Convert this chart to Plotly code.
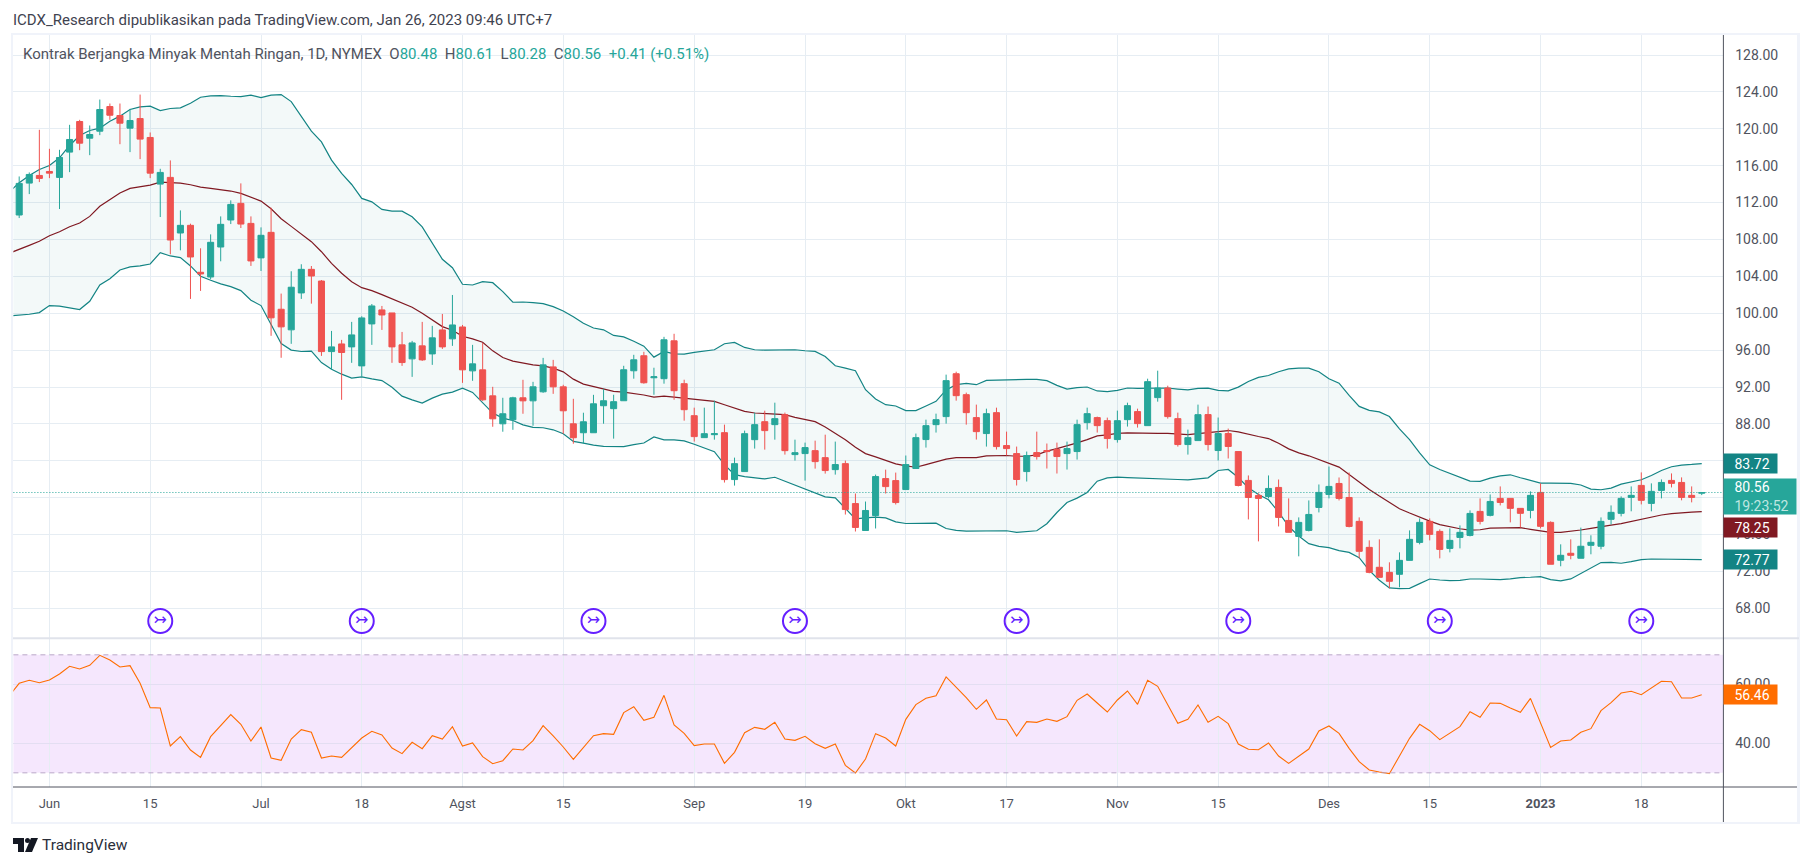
"""
Kontrak Berjangka Minyak Mentah Ringan - chart harian dengan Bollinger Bands dan RSI
"""

import plotly.graph_objects as go

WIDTH = 1813
HEIGHT = 866

# harga per bar
opens = [
    110.65, 114.11, 114.94, 115.37, 114.73, 117.47, 120.79, 118.98, 119.74, 122.41,
    121.44, 120.07, 121.11, 119.06, 114.0, 114.73, 108.70, 109.53, 104.44, 103.93,
    107.18, 110.11, 111.91, 109.74, 106.0, 108.77, 100.43, 98.20, 102.20, 104.76,
    103.49, 95.84, 96.67, 96.35, 94.29, 98.84, 100.36, 100.03, 96.57, 95.05,
    96.46, 95.59, 98.19, 97.22, 98.51, 93.75, 93.86, 91.04, 88.01, 88.45,
    90.83, 90.50, 91.48, 94.18, 92.02, 88.01, 87.04, 87.04, 89.97, 89.65,
    90.51, 93.76, 95.39, 93.0, 92.90, 97.01, 92.36, 88.89, 86.51, 86.83,
    87.05, 81.96, 82.83, 86.29, 88.24, 87.92, 89.0, 84.67, 84.78, 85.10,
    84.34, 83.04, 83.69, 79.36, 76.44, 78.06, 82.07, 81.85, 80.88, 83.16,
    86.30, 87.92, 88.79, 93.44, 91.17, 88.68, 86.95, 89.22, 85.65, 84.78,
    82.83, 84.89, 85.11, 85.22, 84.78, 85.0, 88.14, 88.68, 88.35, 86.30,
    88.46, 89.33, 87.81, 90.85, 91.89, 88.57, 85.76, 86.19, 89.01, 85.11,
    86.95, 85.0, 81.87, 80.24, 80.13, 81.11, 77.53, 75.80, 76.45, 78.94,
    80.35, 81.54, 80.02, 77.43, 74.61, 72.45, 71.90, 71.69, 73.20, 75.15,
    77.43, 76.34, 74.50, 75.69, 75.91, 78.51, 78.08, 79.92, 79.92, 78.84,
    78.62, 80.57, 77.32, 73.21, 73.97, 73.43, 74.83, 74.73, 77.65, 78.30,
    80.03, 81.33, 79.38, 80.79, 81.87, 81.65, 80.25, 80.48,
]
closes = [
    114.08, 115.05, 114.62, 115.19, 116.89, 118.84, 118.44, 119.38, 122.09, 121.47,
    120.61, 120.90, 118.88, 115.19, 115.27, 107.94, 109.53, 106.10, 104.26, 107.69,
    109.64, 111.80, 109.67, 105.67, 108.45, 99.50, 98.52, 102.82, 104.76, 104.04,
    95.84, 96.35, 95.74, 97.65, 99.49, 100.79, 99.81, 96.35, 94.65, 96.78,
    94.94, 97.33, 96.35, 98.73, 93.86, 94.51, 90.61, 88.55, 89.10, 90.83,
    90.50, 92.02, 94.40, 92.02, 89.42, 86.50, 88.23, 90.18, 90.51, 90.41,
    93.87, 94.95, 92.46, 93.11, 97.12, 91.60, 89.54, 86.62, 86.94, 86.94,
    81.96, 83.69, 86.94, 87.92, 87.27, 88.57, 85.10, 84.88, 85.43, 83.91,
    82.94, 83.59, 78.71, 76.77, 78.61, 82.29, 81.20, 79.47, 83.59, 86.51,
    87.81, 88.46, 92.69, 91.06, 89.22, 87.16, 89.11, 85.54, 85.32, 81.97,
    84.57, 84.46, 85.0, 84.46, 85.32, 87.92, 89.11, 87.81, 86.41, 88.35,
    89.98, 88.03, 92.58, 91.89, 88.79, 85.76, 86.51, 89.0, 85.76, 86.95,
    85.55, 81.32, 80.02, 79.92, 81.0, 77.86, 76.24, 77.32, 78.18, 80.57,
    81.22, 79.92, 76.88, 74.18, 71.90, 71.36, 70.93, 73.20, 75.48, 77.32,
    76.02, 74.39, 75.37, 76.24, 78.29, 77.43, 79.59, 79.48, 78.84, 78.30,
    80.25, 76.89, 72.78, 73.75, 73.75, 74.73, 75.16, 77.43, 78.41, 79.92,
    80.25, 79.71, 80.68, 81.65, 81.55, 80.03, 80.03, 80.56,
]
highs = [
    114.83, 115.27, 119.89, 117.83, 117.72, 120.43, 120.97, 120.36, 123.17, 122.74,
    122.74, 122.16, 123.71, 119.60, 115.66, 116.57, 111.15, 109.71, 107.04, 108.55,
    110.50, 112.24, 114.08, 110.50, 109.31, 111.44, 102.13, 104.55, 105.31, 105.12,
    103.6, 98.08, 97.11, 99.06, 99.67, 101.0, 100.79, 100.03, 97.97, 97.0,
    99.06, 98.63, 99.92, 101.98, 98.73, 96.57, 96.78, 92.02, 90.83, 90.94,
    92.78, 92.56, 95.16, 94.94, 92.24, 90.72, 89.21, 91.15, 91.81, 91.16,
    94.30, 95.49, 95.82, 94.09, 97.44, 97.77, 92.79, 89.76, 89.76, 90.51,
    87.92, 84.34, 87.27, 89.22, 89.43, 90.30, 89.22, 86.29, 85.97, 86.18,
    86.83, 86.08, 84.02, 80.45, 79.58, 82.50, 83.04, 82.72, 84.57, 86.95,
    88.46, 89.11, 93.34, 93.66, 91.39, 90.09, 89.65, 89.76, 87.16, 85.54,
    85.0, 87.16, 85.87, 85.97, 86.08, 88.46, 89.76, 88.79, 88.68, 89.44,
    90.30, 89.65, 92.90, 93.77, 92.14, 89.22, 87.38, 90.09, 89.88, 88.69,
    87.49, 85.0, 82.41, 80.46, 82.41, 81.97, 79.92, 77.86, 79.70, 81.43,
    83.38, 82.19, 82.73, 77.86, 75.37, 75.48, 72.99, 74.07, 76.45, 77.75,
    77.75, 76.56, 76.67, 76.99, 78.62, 79.92, 80.35, 81.22, 79.92, 78.84,
    80.68, 81.55, 77.43, 74.94, 75.48, 76.75, 75.92, 77.86, 79.16, 80.14,
    81.22, 82.74, 81.55, 81.98, 82.63, 82.20, 81.22, 80.61,
]
lows = [
    110.32, 112.92, 114.22, 114.65, 111.30, 115.30, 117.68, 117.14, 119.31, 120.97,
    118.33, 117.47, 116.71, 114.65, 110.43, 106.39, 106.82, 101.55, 102.42, 103.68,
    105.63, 109.67, 109.24, 105.13, 104.58, 97.55, 95.17, 96.68, 101.55, 101.04,
    95.37, 93.86, 90.61, 94.62, 93.14, 96.57, 98.19, 94.62, 94.29, 93.10,
    94.83, 94.40, 96.13, 96.46, 92.45, 92.67, 90.50, 87.69, 87.15, 87.36,
    89.10, 87.80, 91.37, 91.26, 86.93, 85.85, 85.85, 87.04, 88.02, 86.40,
    90.51, 92.90, 92.36, 91.16, 92.36, 90.62, 88.35, 86.08, 86.51, 86.29,
    81.64, 81.31, 82.83, 85.32, 85.21, 86.29, 84.67, 84.02, 81.85, 83.15,
    82.61, 82.50, 78.17, 76.33, 76.44, 76.66, 80.45, 79.26, 80.88, 83.16,
    85.43, 87.06, 88.03, 90.52, 87.92, 86.30, 85.54, 85.22, 84.57, 81.32,
    81.75, 84.13, 83.16, 82.62, 83.05, 84.13, 87.38, 87.06, 85.32, 85.97,
    87.71, 87.60, 87.81, 90.41, 88.57, 85.54, 84.67, 86.19, 85.11, 84.03,
    84.25, 81.22, 77.64, 75.26, 79.92, 76.88, 76.24, 73.64, 76.34, 78.40,
    79.92, 79.70, 76.78, 73.42, 71.80, 71.36, 70.17, 70.28, 73.20, 74.94,
    75.37, 73.42, 74.07, 74.50, 75.80, 77.10, 77.97, 79.16, 77.32, 76.75,
    77.76, 76.67, 72.78, 72.56, 73.32, 73.43, 73.86, 74.40, 77.10, 77.97,
    78.52, 79.27, 78.52, 79.92, 81.11, 79.71, 79.49, 80.28,
]

# indikator: nilai pertama adalah bar sebelum tepi kiri chart
bb_upper = [
    113.14,
    114.15, 114.94, 115.59, 116.02, 116.85, 118.19, 119.27, 119.81, 120.07, 120.82,
    121.37, 122.09, 122.38, 122.45, 121.98, 122.20, 122.27, 122.77, 123.42, 123.57,
    123.60, 123.53, 123.49, 123.64, 123.39, 123.64, 123.71, 122.95, 121.33, 119.74,
    118.58, 116.6, 115.16, 113.96, 112.45, 112.08, 111.26, 111.07, 111.07, 110.46,
    109.37, 107.58, 105.85, 104.94, 103.14, 103.06, 103.42, 103.31, 102.34, 101.19,
    101.22, 101.15, 101.04, 100.71, 100.25, 99.63, 98.92, 98.40, 98.20, 97.59,
    97.44, 96.97, 96.43, 95.24, 95.86, 95.60, 95.57, 95.75, 95.93, 96.04,
    96.69, 96.83, 96.29, 96.04, 96.0, 96.04, 96.07, 96.04, 95.93, 95.86,
    95.31, 94.30, 94.05, 93.76, 91.71, 90.70, 90.08, 89.94, 89.44, 89.44,
    89.94, 90.45, 91.68, 92.25, 92.40, 92.25, 92.72, 92.76, 92.76, 92.76,
    92.83, 92.83, 92.69, 92.18, 91.78, 91.93, 92.0, 91.57, 91.49, 91.64,
    91.89, 91.86, 91.86, 91.89, 91.89, 91.78, 91.68, 91.86, 91.88, 91.63,
    91.59, 91.99, 92.60, 93.04, 93.25, 93.65, 93.97, 94.05, 94.05, 93.65,
    92.89, 92.42, 91.09, 89.90, 89.46, 89.30, 88.80, 87.46, 86.30, 84.86,
    83.56, 83.06, 82.66, 82.23, 81.79, 81.76, 82.12, 82.37, 82.48, 82.16,
    81.87, 81.58, 81.58, 81.58, 81.55, 81.37, 80.93, 80.86, 81.04, 81.47,
    81.73, 81.94, 82.41, 82.95, 83.35, 83.53, 83.60, 83.70,
]
bb_basis = [
    106.5,
    106.9, 107.36, 107.8, 108.41, 108.84, 109.38, 109.78, 110.5, 111.59, 112.31,
    113.03, 113.53, 113.75, 113.90, 114.22, 114.18, 114.11, 113.93, 113.68, 113.53,
    113.39, 113.25, 112.99, 112.56, 112.16, 111.33, 110.25, 109.42, 108.59, 107.76,
    106.67, 105.41, 104.33, 103.42, 102.77, 102.45, 102.02, 101.58, 101.15, 100.64,
    99.99, 99.27, 98.55, 98.15, 97.50, 97.22, 96.85, 95.92, 95.19, 94.80,
    94.58, 94.40, 94.29, 94.04, 93.64, 92.85, 92.31, 92.05, 91.81, 91.53,
    91.45, 91.31, 91.13, 90.91, 91.02, 90.91, 90.80, 90.73, 90.62, 90.44,
    90.08, 89.72, 89.36, 89.18, 89.11, 89.11, 89.0, 88.71, 88.49, 88.24,
    87.66, 87.01, 86.29, 85.46, 84.78, 84.42, 84.05, 83.66, 83.45, 83.30,
    83.59, 83.88, 84.17, 84.35, 84.39, 84.35, 84.53, 84.57, 84.57, 84.49,
    84.49, 84.64, 85.04, 85.32, 85.61, 85.94, 86.30, 86.70, 86.80, 86.98,
    87.02, 86.98, 86.98, 86.98, 86.98, 86.88, 86.84, 86.95, 87.06, 87.24,
    87.28, 87.13, 86.85, 86.63, 86.41, 85.91, 85.29, 84.86, 84.54, 84.14,
    83.74, 83.31, 82.51, 81.68, 80.89, 80.17, 79.48, 78.80, 78.33, 77.86,
    77.46, 77.07, 76.81, 76.63, 76.49, 76.52, 76.70, 76.74, 76.75, 76.75,
    76.57, 76.42, 76.24, 76.24, 76.35, 76.49, 76.67, 76.89, 77.03, 77.18,
    77.43, 77.65, 77.90, 78.12, 78.26, 78.37, 78.44, 78.48,
]
bb_lower = [
    99.71,
    99.78, 99.89, 100.07, 100.83, 100.76, 100.54, 100.40, 101.30, 103.07, 103.75,
    104.69, 105.02, 105.13, 105.34, 106.57, 106.21, 106.03, 105.13, 104.01, 103.57,
    103.18, 102.89, 102.45, 101.41, 100.83, 98.77, 96.72, 96.0, 95.85, 95.88,
    94.65, 93.93, 93.39, 92.96, 93.10, 92.88, 92.70, 91.98, 91.01, 90.61,
    90.25, 90.79, 91.22, 91.44, 91.87, 91.41, 90.32, 89.17, 88.63, 88.37,
    87.90, 87.62, 87.58, 87.36, 86.93, 86.10, 85.92, 85.70, 85.57, 85.53,
    85.53, 85.75, 85.93, 86.58, 86.26, 86.26, 86.15, 85.79, 85.43, 84.99,
    83.59, 82.50, 82.29, 82.14, 82.03, 82.21, 81.78, 81.35, 80.98, 80.52,
    80.09, 79.98, 78.89, 77.70, 77.81, 77.88, 77.81, 77.38, 77.20, 77.24,
    77.28, 77.24, 76.66, 76.45, 76.37, 76.37, 76.41, 76.41, 76.41, 76.23,
    76.34, 76.41, 77.17, 78.39, 79.48, 79.95, 80.56, 81.79, 82.15, 82.22,
    82.18, 82.15, 82.11, 82.11, 82.08, 81.97, 81.93, 82.08, 82.15, 82.95,
    83.06, 82.19, 81.07, 80.35, 79.77, 78.44, 76.88, 75.84, 75.01, 74.72,
    74.58, 74.25, 74.07, 73.49, 72.12, 71.04, 70.21, 70.14, 70.17, 70.68,
    71.18, 71.07, 71.0, 71.04, 71.18, 71.18, 71.15, 71.11, 71.19, 71.33,
    71.37, 71.44, 71.12, 70.97, 71.19, 71.77, 72.34, 72.96, 72.99, 72.89,
    73.07, 73.28, 73.35, 73.35, 73.28, 73.28, 73.32, 73.28,
]
rsi = [
    56.0,
    60.34, 61.36, 60.56, 61.47, 63.50, 66.10, 65.20, 66.44, 69.83, 68.25,
    65.88, 66.33, 60.34, 52.09, 51.98, 39.10, 42.26, 37.74, 35.25, 42.26,
    45.88, 49.72, 46.44, 40.79, 45.54, 35.03, 34.24, 41.47, 44.63, 43.73,
    35.03, 35.71, 35.25, 38.53, 41.81, 44.07, 42.82, 38.42, 36.50, 40.34,
    38.19, 42.60, 41.47, 45.65, 39.10, 40.11, 35.48, 33.11, 34.12, 38.08,
    37.74, 40.90, 45.99, 42.49, 38.76, 34.58, 38.64, 42.60, 43.28, 43.05,
    50.40, 52.43, 47.80, 48.81, 56.27, 46.21, 43.39, 39.21, 39.77, 39.77,
    33.22, 36.95, 43.62, 45.42, 44.75, 47.12, 41.47, 41.02, 42.37, 39.89,
    38.31, 39.77, 32.54, 29.94, 34.69, 43.28, 41.81, 39.10, 48.14, 53.11,
    55.25, 56.16, 62.49, 58.98, 55.48, 51.53, 54.69, 48.25, 48.02, 42.49,
    47.34, 47.12, 48.25, 47.46, 49.04, 54.58, 56.72, 53.67, 50.62, 54.69,
    57.74, 53.22, 61.36, 59.32, 52.88, 46.78, 48.14, 52.99, 47.12, 49.15,
    46.67, 39.77, 37.97, 37.85, 40.11, 35.71, 33.22, 35.71, 38.08, 44.18,
    45.88, 43.39, 38.31, 33.79, 30.96, 30.28, 29.72, 35.71, 41.69, 46.44,
    44.29, 41.24, 43.39, 45.65, 50.73, 48.81, 53.67, 53.56, 51.98, 50.51,
    55.25, 46.78, 38.64, 40.79, 41.13, 43.73, 44.97, 51.07, 53.79, 57.06,
    57.63, 56.50, 58.64, 61.02, 60.90, 55.37, 55.37, 56.46,
]

# label sumbu
tick_bars = [3, 13, 24, 34, 44, 54, 67, 78, 88, 98, 109, 119, 130, 140, 151, 161]
tick_labels = ["Jun", "15", "Jul", "18", "Agst", "15", "Sep", "19", "Okt", "17",
               "Nov", "15", "Des", "15", "<b>2023</b>", "18"]
price_ticks = list(range(68, 129, 4))
# 80.00 dan 84.00 tertutup label harga di gambar asli
price_tick_labels = ["" if p in (80, 84) else f"{p}.00" for p in price_ticks]
rsi_ticks = [40, 60]
rsi_band = [30, 70]

# bar tempat ikon rollover kontrak
rollover_bars = [14, 34, 57, 77, 99, 121, 141, 161]
rollover_price = 66.63

# teks label di sumbu kanan
label_upper = "83.72"
label_basis = "78.25"
label_lower = "72.77"
label_price = "80.56"
label_countdown = "19:23:52"
label_rsi = "56.46"

UP_COLOR = "#26a69a"
DOWN_COLOR = "#ef5350"
BAND_COLOR = "#138484"
BASIS_COLOR = "#801922"
RSI_COLOR = "#ff6d00"
ICON_COLOR = "#651fff"
GRID_COLOR = "#e6edf3"
TEXT_COLOR = "#50535e"
FONT = "Roboto"

# posisi area chart dalam piksel
PLOT_LEFT = 13.4
PLOT_RIGHT = 1723.4
PLOT_TOP = 35
PANE_SPLIT = 638.3
PLOT_BOTTOM = 787
FRAME_RIGHT = 1799
FRAME_BOTTOM = 822


def px_x(x):
    return x / WIDTH


def px_y(y):
    return 1 - y / HEIGHT


candle_bars = list(range(len(closes)))
indicator_bars = list(range(-1, len(closes)))
x_range = [-0.576, 169.15]

fig = go.Figure()

# Bollinger Bands
fig.add_trace(go.Scatter(x=indicator_bars, y=bb_upper, mode="lines",
                         line=dict(color=BAND_COLOR, width=1.2), hoverinfo="skip"))
fig.add_trace(go.Scatter(x=indicator_bars, y=bb_lower, mode="lines", fill="tonexty",
                         fillcolor="rgba(19,132,132,0.05)",
                         line=dict(color=BAND_COLOR, width=1.2), hoverinfo="skip"))
fig.add_trace(go.Scatter(x=indicator_bars, y=bb_basis, mode="lines",
                         line=dict(color=BASIS_COLOR, width=1.2), hoverinfo="skip"))

# ikon rollover
fig.add_trace(go.Scatter(
    x=rollover_bars, y=[rollover_price] * len(rollover_bars),
    mode="markers+text", text=["↣"] * len(rollover_bars), textposition="middle center",
    textfont=dict(family="DejaVu Sans", size=16, color=ICON_COLOR),
    marker=dict(symbol="circle-open", size=24, color=ICON_COLOR, line=dict(width=2, color=ICON_COLOR)),
    hoverinfo="skip"))

# candle di axis overlay supaya berada di atas garis indikator
fig.add_trace(go.Candlestick(
    x=candle_bars, open=opens, high=highs, low=lows, close=closes, yaxis="y3",
    increasing=dict(line=dict(color=UP_COLOR, width=1), fillcolor=UP_COLOR),
    decreasing=dict(line=dict(color=DOWN_COLOR, width=1), fillcolor=DOWN_COLOR),
    hoverinfo="skip"))

# RSI
fig.add_trace(go.Scatter(x=indicator_bars, y=rsi, mode="lines", xaxis="x2", yaxis="y2",
                         line=dict(color=RSI_COLOR, width=1.1), hoverinfo="skip"))

price_range = [64.75, 130.17]
price_domain = [px_y(PANE_SPLIT), px_y(PLOT_TOP)]
x_font = dict(family=FONT, size=13, color=TEXT_COLOR)
y_font = dict(family=FONT, size=14, color=TEXT_COLOR)

fig.update_layout(
    width=WIDTH, height=HEIGHT,
    margin=dict(l=0, r=0, t=0, b=0),
    paper_bgcolor="white", plot_bgcolor="white",
    showlegend=False, hovermode=False, font=dict(family=FONT),
    boxgap=0.4, boxgroupgap=0,
    xaxis=dict(domain=[px_x(PLOT_LEFT), px_x(PLOT_RIGHT)], range=x_range,
               anchor="y", tickvals=tick_bars, showticklabels=False, ticks="",
               showgrid=True, gridcolor=GRID_COLOR, gridwidth=1, zeroline=False,
               rangeslider=dict(visible=False)),
    xaxis2=dict(domain=[px_x(PLOT_LEFT), px_x(PLOT_RIGHT)], range=x_range,
                anchor="y2", matches="x", tickvals=tick_bars, ticktext=tick_labels,
                ticks="outside", ticklen=4, tickcolor="rgba(0,0,0,0)", tickfont=x_font,
                showgrid=True, gridcolor=GRID_COLOR, gridwidth=1, zeroline=False),
    yaxis=dict(domain=price_domain, range=price_range, anchor="x", side="right",
               tickvals=price_ticks, ticktext=price_tick_labels, tickfont=y_font,
               ticks="outside", ticklen=8, tickcolor="rgba(0,0,0,0)",
               showgrid=True, gridcolor=GRID_COLOR, gridwidth=1, zeroline=False),
    yaxis3=dict(domain=price_domain, range=price_range, overlaying="y", anchor="x",
                side="right", visible=False),
    yaxis2=dict(domain=[px_y(PLOT_BOTTOM), px_y(PANE_SPLIT)], range=[25.2, 75.6],
                anchor="x2", side="right", tickvals=rsi_ticks, tickformat=".2f",
                tickfont=y_font, ticks="outside", ticklen=8, tickcolor="rgba(0,0,0,0)",
                showgrid=True, gridcolor="#e3def2", gridwidth=1, zeroline=False),
)

# pita RSI dan garis 70/30
fig.add_shape(type="rect", xref="x2 domain", yref="y2", x0=0, x1=1, y0=rsi_band[0], y1=rsi_band[1],
              fillcolor="rgba(170,60,240,0.12)", line=dict(width=0), layer="below")
for level in rsi_band:
    fig.add_shape(type="line", xref="x2 domain", yref="y2", x0=0, x1=1, y0=level, y1=level,
                  line=dict(color="#b9a8c8", width=1, dash="5px,4px"))

# garis harga terakhir
fig.add_shape(type="line", xref="x domain", yref="y", x0=0, x1=1, y0=closes[-1], y1=closes[-1],
              line=dict(color=UP_COLOR, width=1, dash="1px,2px"))

# bingkai dan garis pemisah
FRAME = "#f0f3fa"
for x0, y0, x1, y1 in [(11, 33, FRAME_RIGHT + 1, 35), (11, 33, 13, FRAME_BOTTOM + 2),
                       (FRAME_RIGHT - 2, 33, FRAME_RIGHT + 1, FRAME_BOTTOM + 2),
                       (11, FRAME_BOTTOM, FRAME_RIGHT + 1, FRAME_BOTTOM + 2)]:
    fig.add_shape(type="rect", xref="paper", yref="paper", x0=px_x(x0), x1=px_x(x1),
                  y0=px_y(y0), y1=px_y(y1), fillcolor=FRAME, line=dict(width=0))
fig.add_shape(type="line", xref="paper", yref="paper", x0=px_x(13), x1=px_x(FRAME_RIGHT),
              y0=px_y(PANE_SPLIT), y1=px_y(PANE_SPLIT), line=dict(color="#e0e3eb", width=2))
fig.add_shape(type="line", xref="paper", yref="paper", x0=px_x(13), x1=px_x(FRAME_RIGHT - 2),
              y0=px_y(PLOT_BOTTOM), y1=px_y(PLOT_BOTTOM), line=dict(color=TEXT_COLOR, width=1))
fig.add_shape(type="line", xref="paper", yref="paper", x0=px_x(PLOT_RIGHT), x1=px_x(PLOT_RIGHT),
              y0=px_y(PLOT_TOP), y1=px_y(FRAME_BOTTOM), line=dict(color=TEXT_COLOR, width=1))


# logo TradingView
def logo_path(points):
    return "M " + " L ".join(f"{px_x(x):.5f},{px_y(y):.5f}" for x, y in points) + " Z"


for pts in [[(13, 838), (24, 838), (24, 852), (18, 852), (18, 844), (13, 844)],
            [(31, 838), (38, 838), (32, 852), (25, 852)]]:
    fig.add_shape(type="path", xref="paper", yref="paper", path=logo_path(pts),
                  fillcolor="#131722", line=dict(width=0))
fig.add_shape(type="circle", xref="paper", yref="paper", x0=px_x(25), x1=px_x(30),
              y0=px_y(838), y1=px_y(843), fillcolor="#131722", line=dict(width=0))


def add_text(x, y, text, size=14, color="#131722"):
    fig.add_annotation(xref="paper", yref="paper", x=px_x(x), y=px_y(y), text=text,
                       showarrow=False, xanchor="left", yanchor="middle",
                       font=dict(family=FONT, size=size, color=color))


add_text(11, 20, "ICDX_Research dipublikasikan pada TradingView.com, Jan 26, 2023 09:46 UTC+7", 15, "#3f4350")
add_text(40, 845, "TradingView", 15.5, "#2a2e39")


def ohlc(letter, value):
    return f"{letter}<span style='color:{UP_COLOR}'>{value}</span>"


legend = ("Kontrak Berjangka Minyak Mentah Ringan, 1D, NYMEX&nbsp;&nbsp;"
          + "&nbsp;&nbsp;".join([ohlc("O", "80.48"), ohlc("H", "80.61"), ohlc("L", "80.28"), ohlc("C", "80.56")])
          + f"&nbsp;&nbsp;<span style='color:{UP_COLOR}'>+0.41 (+0.51%)</span>")
add_text(21, 54, legend, 15, TEXT_COLOR)


# label nilai terakhir di sumbu kanan
PAD = "&nbsp;&nbsp;&nbsp;"


def axis_label(y, yref, text, bg, height=19, width=53, yshift=0):
    fig.add_annotation(xref="paper", yref=yref, x=px_x(PLOT_RIGHT), y=y, text=text, showarrow=False,
                       xanchor="left", yanchor="middle", align="left", yshift=yshift,
                       width=width, height=height, bgcolor=bg, borderpad=0,
                       font=dict(family=FONT, size=14, color="white"))


axis_label(bb_upper[-1], "y", PAD + label_upper, BAND_COLOR)
axis_label(bb_lower[-1], "y", PAD + label_lower, BAND_COLOR)
axis_label(bb_basis[-1], "y", PAD + label_basis, BASIS_COLOR, yshift=-15.7)
axis_label(closes[-1], "y", f"{PAD}{label_price}<br>{PAD}<span style='color:#bfe6e1'>{label_countdown}</span>",
           UP_COLOR, height=35, width=72, yshift=-4.3)
axis_label(rsi[-1], "y2", PAD + label_rsi, RSI_COLOR)

fig.write_html("out.html", config=dict(displayModeBar=False),
               post_script="document.body.style.margin='0';")
